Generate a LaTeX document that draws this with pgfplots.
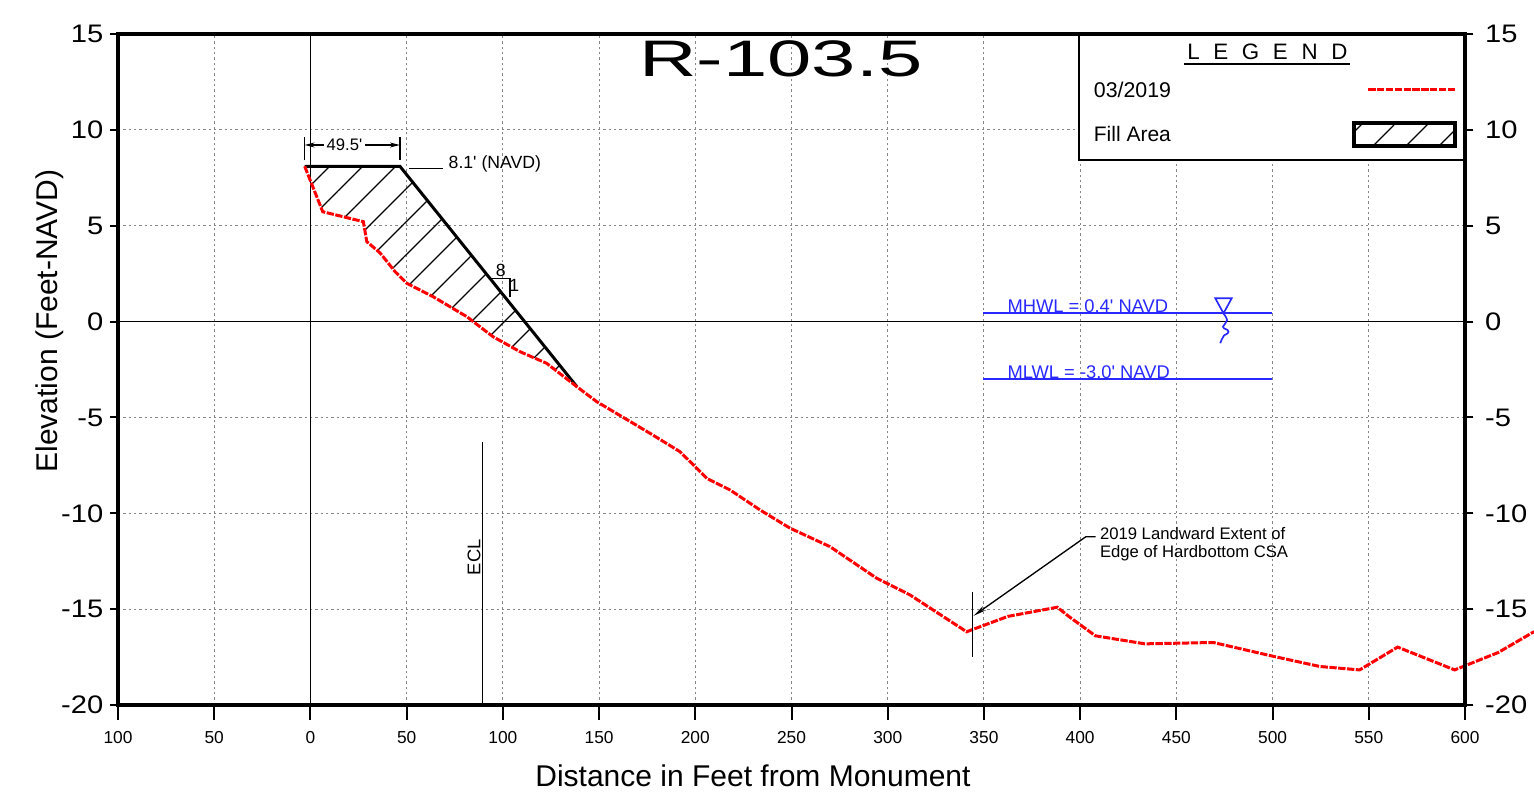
\documentclass[border=0pt]{standalone}
\usepackage{fontspec}
\setmainfont{Liberation Sans}
\newfontfamily\widefont[FakeStretch=1.15]{Liberation Sans}
\newfontfamily\titlefont[FakeStretch=1.55]{Liberation Sans}
\usepackage{pgfplots}
\pgfplotsset{compat=1.18}
\usetikzlibrary{patterns.meta,arrows.meta}

\definecolor{profred}{RGB}{255,0,0}
\definecolor{wlblue}{RGB}{40,40,255}
\definecolor{gridgray}{RGB}{135,135,135}
\tikzset{
  profile/.style={profred, line width=0.9pt, dash pattern=on 2.2pt off 0.45pt},
  hatch/.style={pattern={Lines[angle=45,distance=7pt,line width=0.4pt]}},
}

\begin{document}
\begin{tikzpicture}
\begin{axis}[
    scale only axis, width=404.1pt, height=201.3pt,
    xmin=-100, xmax=600, ymin=-20, ymax=15,
    clip=false,
    xtick={-100,-50,...,600},
    xticklabels={100,50,0,50,100,150,200,250,300,350,400,450,500,550,600},
    ytick={-20,-15,...,15},
    yticklabels={-20,-15,-10,-5,0,5,10,15},
    xtick pos=left, ytick pos=left,
    tick align=outside,
    major tick length=4.5pt,
    xtick style={black, line width=0.6pt},
    ytick style={draw=none},
    axis line style={line width=1pt},
    grid=major,
    major grid style={gridgray, line width=0.3pt, dash pattern=on 0.7pt off 0.9pt},
    xticklabel style={font=\fontsize{5.2}{6}\selectfont},
    yticklabel style={font=\widefont\fontsize{7.6}{8}\selectfont, xshift=3.6pt},
    xlabel={Distance in Feet from Monument},
    ylabel={Elevation (Feet-NAVD)},
    xlabel style={at={(axis description cs:0.4714,-0.1058)}, anchor=center, font=\fontsize{9}{10}\selectfont},
    ylabel style={at={(axis description cs:-0.0505,0.572)}, anchor=center, font=\fontsize{9}{10}\selectfont},
]
% reference lines
\draw[black, line width=0.45pt] (axis cs:-100,0) -- (axis cs:600,0);
\draw[black, line width=0.45pt] (axis cs:0,-20) -- (axis cs:0,15);

% fill area
\addplot[draw=none, hatch] coordinates {
    (-3,8.1) (46.5,8.1) (138.5,-3.4) (122.8,-2.18) (108.9,-1.57) (94.9,-0.79)
    (81.2,0.26) (63.7,1.3) (50,2.0) (44,2.6) (36.2,3.58) (29.3,4.17)
    (27.5,5.21) (6.4,5.73) (-3,8.1)
};
\addplot[black, line width=0.9pt] coordinates {(-3,8.1) (46.5,8.1) (138.5,-3.4)};

% 03/2019 profile
\addplot[profile] coordinates {
    (-3,8.1) (6.4,5.73) (27.5,5.21) (29.3,4.17) (36.2,3.58) (44,2.6) (50,2.0)
    (63.7,1.3) (81.2,0.26) (94.9,-0.79) (108.9,-1.57) (122.8,-2.18) (138.5,-3.4)
    (148.8,-4.18) (176.5,-5.83) (192.1,-6.79) (199,-7.48) (206,-8.18) (218,-8.78)
    (233.7,-9.83) (249.3,-10.78) (270,-11.74) (294.3,-13.39) (311.6,-14.26)
    (328.9,-15.39) (341,-16.18) (362.4,-15.38) (388.1,-14.9) (394.1,-15.38)
    (407.9,-16.39) (433.6,-16.81) (469.2,-16.74) (500.8,-17.47) (524.5,-17.99)
    (545.2,-18.17) (565,-16.98) (594.6,-18.17) (617.3,-17.26) (636,-16.17)
};

% title
\node[font=\titlefont\fontsize{15.4}{16}\selectfont, anchor=center] at (axis cs:244.5,13.73) {R-103.5};

% dimension 49.5'
\draw[black, line width=0.4pt] (axis cs:-3,8.45) -- (axis cs:-3,9.62);
\draw[black, line width=0.4pt] (axis cs:46.5,8.45) -- (axis cs:46.5,9.62);
\draw[black, line width=0.4pt, {Stealth[length=3pt,width=1.5pt]}-{Stealth[length=3pt,width=1.5pt]}] (axis cs:-3,9.21) -- (axis cs:46.5,9.21);
\node[fill=white, inner sep=0.8pt, font=\fontsize{5}{6}\selectfont] at (axis cs:17.7,9.21) {49.5\textquotesingle};
\draw[black, line width=0.4pt] (axis cs:51.4,8.0) -- (axis cs:69.1,8.0);
\node[anchor=west, inner sep=0pt, font=\fontsize{5.3}{6}\selectfont] at (axis cs:71.5,8.2) {8.1\textquotesingle{} (NAVD)};

% slope 8:1
\draw[black, line width=0.4pt] (axis cs:93.2,2.26) -- (axis cs:103.7,2.26) -- (axis cs:103.7,1.3);
\node[inner sep=0pt, font=\fontsize{5.3}{6}\selectfont] at (axis cs:98.9,2.66) {8};
\node[inner sep=0pt, font=\fontsize{5.3}{6}\selectfont] at (axis cs:106,1.87) {1};

% ECL
\draw[black, line width=0.45pt] (axis cs:89.5,-6.3) -- (axis cs:89.5,-20);
\node[rotate=90, inner sep=0pt, font=\fontsize{5.5}{6}\selectfont] at (axis cs:85.0,-12.3) {ECL};

% water levels
\draw[wlblue, line width=0.5pt] (axis cs:349.7,0.43) -- (axis cs:499.6,0.43);
\draw[wlblue, line width=0.5pt] (axis cs:349.7,-2.99) -- (axis cs:499.6,-2.99);
\node[wlblue, anchor=south west, inner sep=0.3pt, font=\fontsize{5.5}{6}\selectfont] at (axis cs:361.4,0.38) {MHWL = 0.4\textquotesingle{} NAVD};
\node[wlblue, anchor=south west, inner sep=0.3pt, font=\fontsize{5.5}{6}\selectfont] at (axis cs:361.4,-3.04) {MLWL = -3.0\textquotesingle{} NAVD};
\draw[wlblue, line width=0.5pt] (axis cs:470.2,1.22) -- (axis cs:478.8,1.22) -- (axis cs:474.5,0.43) -- cycle;
\draw[wlblue, line width=0.5pt] (axis cs:474.5,0.43) to[out=-70,in=90] (axis cs:476.4,0.08)
    to[out=-90,in=80] (axis cs:474.2,-0.27) to[out=-80,in=90] (axis cs:477.1,-0.53)
    to[out=-90,in=80] (axis cs:474.3,-0.8) to[out=-100,in=90] (axis cs:472.8,-1.13);

% hardbottom annotation
\draw[black, line width=0.45pt] (axis cs:344,-14.09) -- (axis cs:344,-17.51);
\draw[black, line width=0.4pt, -{Stealth[length=4pt,width=1.5pt]}] (axis cs:408,-11.22) -- (axis cs:403,-11.22) -- (axis cs:344.6,-15.35);
\node[anchor=west, align=left, inner sep=0pt, font=\fontsize{5}{5.5}\selectfont] at (axis cs:410,-11.6) {2019 Landward Extent of\\Edge of Hardbottom CSA};

% legend box
\fill[white] (axis cs:399.5,8.43) rectangle (axis cs:599.1,14.91);
\draw[black, line width=0.45pt] (axis cs:399.5,14.9) -- (axis cs:399.5,8.43) -- (axis cs:600,8.43);
\node[anchor=base, inner sep=0pt, font=\fontsize{6.7}{7}\selectfont] at (axis cs:497.3,13.65)
    {L\hspace{4.1pt}E\hspace{4.1pt}G\hspace{4.1pt}E\hspace{4.1pt}N\hspace{4.1pt}D};
\draw[black, line width=0.45pt] (axis cs:454.1,13.44) -- (axis cs:540.4,13.44);
\node[anchor=west, inner sep=0pt, font=\fontsize{6.4}{7}\selectfont] at (axis cs:406.8,12.08) {03/2019};
\node[anchor=west, inner sep=0pt, font=\fontsize{6.3}{7}\selectfont] at (axis cs:406.8,9.78) {Fill Area};
\draw[profile] (axis cs:549.7,12.13) -- (axis cs:594.9,12.13);
\draw[black, line width=1.2pt, hatch] (axis cs:542.4,9.16) rectangle (axis cs:594.9,10.36);
\end{axis}

\begin{axis}[
    scale only axis, width=404.1pt, height=201.3pt,
    xmin=-100, xmax=600, ymin=-20, ymax=15,
    hide x axis,
    ytick={-20,-15,...,15},
    yticklabels={-20,-15,-10,-5,0,5,10,15},
    ytick pos=both, yticklabel pos=right,
    tick align=outside,
    major tick length=2.5pt,
    ytick style={black, line width=0.6pt},
    axis line style={line width=1pt},
    yticklabel style={font=\widefont\fontsize{7.6}{8}\selectfont},
]
\end{axis}
\pgfresetboundingbox
\path[use as bounding box] (-35.4pt,-26.4pt) rectangle (424.8pt,211.5pt);
\end{tikzpicture}
\end{document}
